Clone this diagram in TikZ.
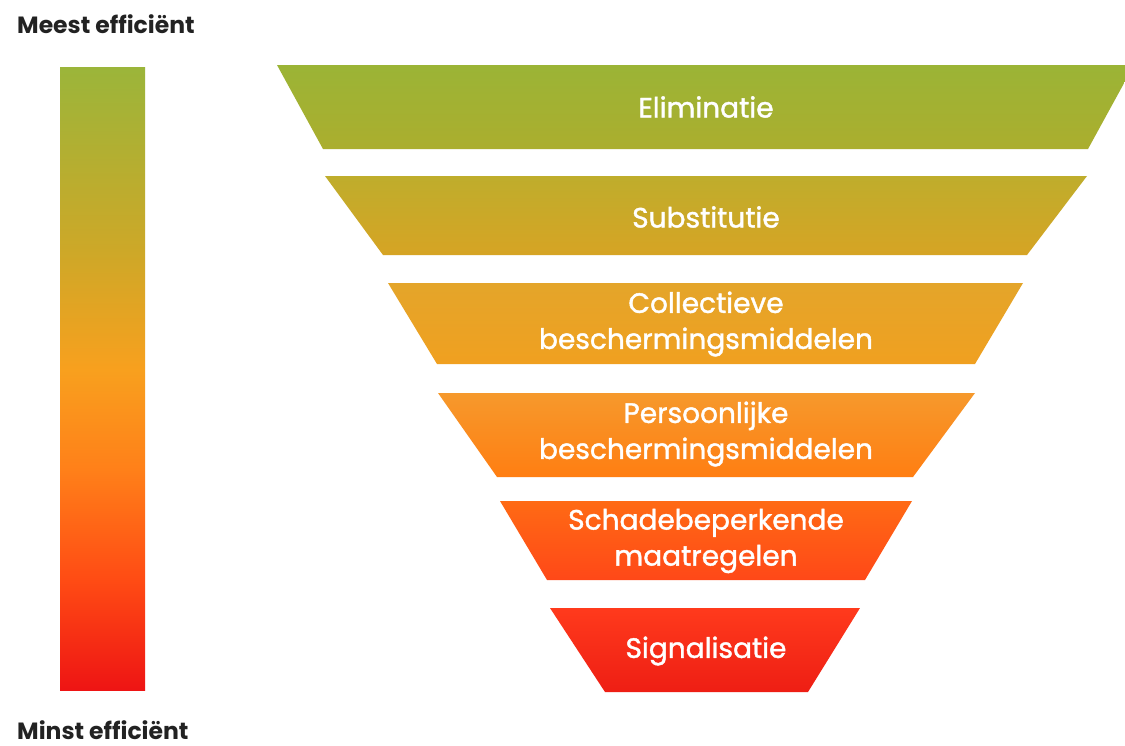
\documentclass[tikz,border=0pt]{standalone}
\usepackage{fontspec}
\setmainfont{Poppins}
\newfontfamily\lvlfont{Poppins}[FakeBold=1.4]
\definecolor{textdark}{HTML}{222222}
\definecolor{barG}{HTML}{9BB53A}
\definecolor{barY}{HTML}{CDA828}
\definecolor{barO}{HTML}{F8A01E}
\definecolor{barO2}{HTML}{FF8019}
\definecolor{barR1}{HTML}{FF4B14}
\definecolor{barR}{HTML}{EE1414}
\definecolor{aT}{HTML}{9BB436}
\definecolor{aB}{HTML}{ABAE2E}
\definecolor{bT}{HTML}{BFAD2C}
\definecolor{bB}{HTML}{D6A424}
\definecolor{cT}{HTML}{E4A52A}
\definecolor{cB}{HTML}{F0A020}
\definecolor{dT}{HTML}{F6992C}
\definecolor{dB}{HTML}{FF7E12}
\definecolor{eT}{HTML}{FF6A14}
\definecolor{eB}{HTML}{FF4818}
\definecolor{fT}{HTML}{FF3A1C}
\definecolor{fB}{HTML}{EE1E14}
\pgfdeclareverticalshading{barshade}{100bp}{color(0bp)=(barR); color(25bp)=(barR); color(33.8bp)=(barR1); color(42.7bp)=(barO2); color(50.7bp)=(barO); color(60.3bp)=(barY); color(75bp)=(barG); color(100bp)=(barG)}
\begin{document}
\begin{tikzpicture}[x=1pt,y=-1pt,
  lvl/.style={text=white, font=\lvlfont\fontsize{28}{36}\selectfont, align=center, inner sep=0pt},
  side/.style={text=textdark, font=\bfseries\fontsize{23.5}{26}\selectfont, anchor=base west, inner sep=0pt}]
\useasboundingbox (0,0) rectangle (1125,745);
\clip (0,0) rectangle (1125,745);
\fill[white] (0,0) rectangle (1125,745);
% gradient bar
\shade[shading=barshade] (60,67) rectangle (145,690);
% funnel levels
\shade[top color=aT, bottom color=aB] (277,65) -- (1134,65) -- (1088,149) -- (323,149) -- cycle;
\shade[top color=bT, bottom color=bB] (325,176) -- (1087,176) -- (1027,255) -- (383,255) -- cycle;
\shade[top color=cT, bottom color=cB] (388,283) -- (1023,283) -- (975,364) -- (437,364) -- cycle;
\shade[top color=dT, bottom color=dB] (438,393) -- (975,393) -- (913,477) -- (497,477) -- cycle;
\shade[top color=eT, bottom color=eB] (500,501) -- (912,501) -- (865,580) -- (547,580) -- cycle;
\shade[top color=fT, bottom color=fB] (550,608) -- (860,608) -- (808,692) -- (605,692) -- cycle;
% labels
\node[lvl] (elim) at (706,107) {Eliminatie};
\node[lvl] (subst) at (706,217) {Substitutie};
\node[lvl] (coll) at (706,324) {Collectieve\\beschermingsmiddelen};
\node[lvl] (pers) at (706,434) {Persoonlijke\\beschermingsmiddelen};
\node[lvl] (schade) at (706,541) {Schadebeperkende\\maatregelen};
\node[lvl] (sign) at (706,651) {Signalisatie};
\node[side] (meest) at (17,33) {Meest efficiënt};
\node[side] (minst) at (17,739) {Minst efficiënt};
\end{tikzpicture}
\end{document}
